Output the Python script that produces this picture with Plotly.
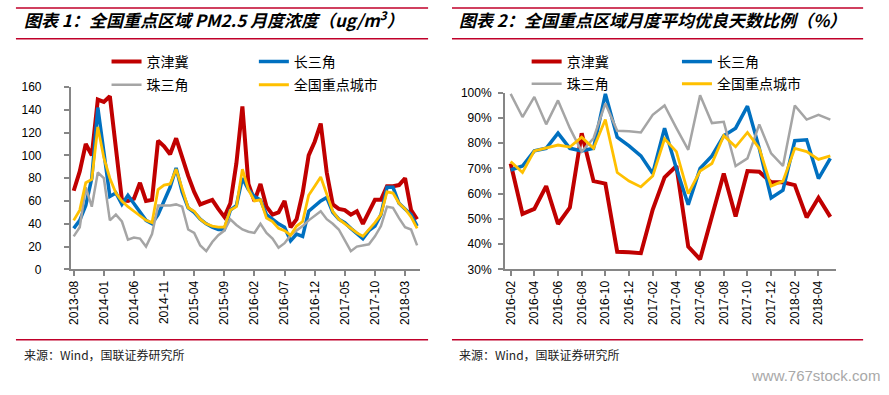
import plotly.graph_objects as go
import pandas as pd

W, H = 889, 395

# ---------------- data: chart 1 (PM2.5, ug/m3), 2013-08 .. 2018-05 ----------------
months1 = [d.strftime("%Y-%m") for d in pd.date_range("2013-08-01", "2018-05-01", freq="MS")]
ticks1 = ["2013-08", "2014-01", "2014-06", "2014-11", "2015-04", "2015-09",
          "2016-02", "2016-07", "2016-12", "2017-05", "2017-10", "2018-03"]
pm_jjj = [69, 86, 110, 100, 149, 147, 152, 104, 61, 60, 62, 76, 60, 61, 113, 108, 101, 115, 97, 82,
          68, 57, 59, 61, 53, 46, 58, 93, 143, 75, 60, 75, 55, 48, 50, 60, 37, 44, 67, 100,
          112, 128, 85, 57, 53, 52, 48, 51, 40, 51, 61, 61, 73, 73, 74, 80, 52, 44]
pm_csj = [36, 43, 56, 80, 142, 100, 64, 67, 57, 65, 58, 50, 43, 40, 48, 60, 72, 89, 68, 54,
          50, 44, 40, 37, 35, 35, 52, 56, 80, 70, 64, 61, 48, 44, 40, 37, 25, 31, 29, 51,
          56, 60, 63, 50, 44, 41, 36, 31, 27, 34, 38, 48, 72, 72, 58, 53, 48, 38]
pm_zsj = [29, 37, 72, 55, 85, 80, 43, 48, 42, 26, 28, 27, 20, 31, 56, 56, 56, 57, 55, 35,
          32, 21, 16, 24, 30, 34, 44, 39, 35, 33, 32, 40, 32, 27, 19, 23, 30, 34, 38, 43,
          47, 51, 44, 40, 35, 25, 16, 20, 21, 22, 29, 38, 55, 54, 45, 37, 35, 21]
pm_all = [43, 52, 76, 79, 125, 98, 80, 67, 60, 55, 51, 47, 43, 41, 70, 74, 75, 88, 70, 54,
          51, 44, 40, 38, 37, 37, 52, 55, 88, 70, 60, 61, 45, 42, 36, 34, 30, 38, 42, 65,
          73, 81, 66, 51, 44, 40, 36, 32, 29, 35, 41, 48, 68, 67, 58, 53, 46, 36]

# ---------------- data: chart 2 (good-air days ratio, %), 2016-02 .. 2018-05 ----------------
months2 = [d.strftime("%Y-%m") for d in pd.date_range("2016-02-01", "2018-05-01", freq="MS")]
ticks2 = ["2016-02", "2016-04", "2016-06", "2016-08", "2016-10", "2016-12", "2017-02",
          "2017-04", "2017-06", "2017-08", "2017-10", "2017-12", "2018-02", "2018-04"]
gd_jjj = [72, 52, 54, 63, 48, 54.5, 84, 65, 64, 37, 36.8, 36.4, 53.7, 66.5, 71, 39, 34, 51, 68, 51,
          69, 68.7, 64.5, 64.5, 63.4, 50.6, 58.4, 50.8]
gd_csj = [69.4, 71, 77, 78, 84, 78, 77, 78, 99.6, 82.4, 79, 75, 68, 86, 70, 55.6, 70, 75, 83, 86,
          94.7, 78, 58.3, 61.4, 81, 81.4, 66, 74]
gd_zsj = [99.6, 90.4, 98.4, 87.5, 97, 86, 76.7, 82, 95.8, 85, 84.8, 84.3, 91.3, 95, 86, 77.4, 99, 88,
          88.5, 71, 74, 87.5, 76, 71, 95, 89.4, 91.3, 89.4]
gd_all = [72.8, 68.4, 77, 78, 79.3, 78.5, 82.4, 78, 89.4, 68.4, 65, 62.7, 67, 81.8, 76.7, 60, 69, 72,
          83, 78.6, 84.3, 78, 63, 65, 78, 76.7, 73.6, 75]

names = ["京津冀", "长三角", "珠三角", "全国重点城市"]
colors = ["#C00000", "#0070C0", "#A5A5A5", "#FFC000"]
widths = [4, 3.5, 2.5, 2.8]


def fx(px):
    return px / W


def fy(py):
    return 1 - py / H


fig = go.Figure()

series1 = [pm_jjj, pm_csj, pm_zsj, pm_all]
series2 = [gd_jjj, gd_csj, gd_zsj, gd_all]

leg_pos1 = [(103, 57), (251, 57), (103, 81), (251, 81)]
leg_pos2 = [(525, 57), (676, 57), (525, 80), (676, 80)]

for k in range(4):
    fig.add_trace(go.Scatter(x=months1, y=series1[k], mode="lines", name=names[k],
                             line=dict(color=colors[k], width=widths[k]), showlegend=True,
                             xaxis="x", yaxis="y", legend="legend" if k == 0 else f"legend{k+1}"))
for k in range(4):
    fig.add_trace(go.Scatter(x=months2, y=series2[k], mode="lines", name=names[k],
                             line=dict(color=colors[k], width=widths[k]), showlegend=True,
                             xaxis="x2", yaxis="y2", legend=f"legend{k+5}"))

tickfont = dict(family="Liberation Sans, Arial", size=12, color="#000000")
axcol = "#868686"

layout = dict(
    width=W, height=H, margin=dict(l=0, r=0, t=0, b=0), showlegend=True,
    paper_bgcolor="white", plot_bgcolor="white",
    xaxis=dict(domain=[fx(67), fx(418)], type="category", range=[-0.5, len(months1) - 0.5],
               tickmode="array", tickvals=ticks1, ticktext=ticks1, tickangle=-90,
               showline=True, linecolor=axcol, linewidth=1.5, ticks="outside", ticklen=5,
               tickcolor=axcol, tickwidth=1.5, showgrid=False, tickfont=tickfont, anchor="y"),
    yaxis=dict(domain=[fy(272), fy(83)], range=[0, 160], dtick=20, tickmode="linear", tick0=0,
               showline=True, linecolor=axcol, linewidth=1.5, ticks="outside", ticklen=5,
               tickcolor=axcol, tickwidth=1.5, showgrid=False, zeroline=False, tickfont=tickfont,
               anchor="x", ticklabelstandoff=20),
    xaxis2=dict(domain=[fx(503), fx(836)], type="category", range=[-0.5, len(months2) - 0.5],
                tickmode="array", tickvals=ticks2, ticktext=ticks2, tickangle=-90,
                showline=True, linecolor=axcol, linewidth=1.5, ticks="outside", ticklen=5,
                tickcolor=axcol, tickwidth=1.5, showgrid=False, tickfont=tickfont, anchor="y2"),
    yaxis2=dict(domain=[fy(272), fy(89)], range=[30, 100], dtick=10, tickmode="linear", tick0=30,
                ticksuffix="%", showline=True, linecolor=axcol, linewidth=1.5, ticks="outside",
                ticklen=5, tickcolor=axcol, tickwidth=1.5, showgrid=False, zeroline=False,
                tickfont=tickfont, anchor="x2", ticklabelstandoff=4),
)

legfont = dict(family="Noto Sans CJK SC", size=14, color="#000000")
allpos = leg_pos1 + leg_pos2
for k, (lx, ly) in enumerate(allpos):
    key = "legend" if k == 0 else f"legend{k+1}"
    layout[key] = dict(x=fx(lx), y=fy(ly), xanchor="left", yanchor="middle",
                       bgcolor="rgba(0,0,0,0)", font=legfont, itemwidth=30,
                       borderwidth=0, visible=True)

fig.update_layout(**layout)

red = "#C0002A"
shapes = []
for (x0, x1) in [(12, 426), (450, 863)]:
    for yy in (1, 33, 345):
        shapes.append(dict(type="line", xref="paper", yref="paper", x0=fx(x0), x1=fx(x1),
                           y0=fy(yy), y1=fy(yy), line=dict(color=red, width=1.5)))
fig.update_layout(shapes=shapes)

titlefont = dict(family="Noto Sans CJK SC", size=17, color="#000000")
srcfont = dict(family="Noto Sans CJK SC", size=12, color="#222222")
ann = [
    dict(text="<b><i>图表 1：全国重点区域 PM2.5 月度浓度（ug/m<sup>3</sup>）</i></b>",
         x=fx(18), y=fy(12), xanchor="left", yanchor="middle", font=titlefont),
    dict(text="<b><i>图表 2：全国重点区域月度平均优良天数比例（%）</i></b>",
         x=fx(455), y=fy(13), xanchor="left", yanchor="middle", font=titlefont),
    dict(text="来源：Wind，国联证券研究所", x=fx(18), y=fy(360), xanchor="left",
         yanchor="middle", font=srcfont),
    dict(text="来源：Wind，国联证券研究所", x=fx(455), y=fy(360), xanchor="left",
         yanchor="middle", font=srcfont),
    dict(text="www.767stock.com", x=fx(882), y=fy(382), xanchor="right", yanchor="middle",
         font=dict(family="Liberation Sans, Arial", size=15, color="#A8A8A8")),
]
for a in ann:
    a.update(xref="paper", yref="paper", showarrow=False)
fig.update_layout(annotations=ann)

fig.write_html("out.html", config={"displayModeBar": False},
               post_script="document.body.style.margin='0';document.body.style.padding='0';")
